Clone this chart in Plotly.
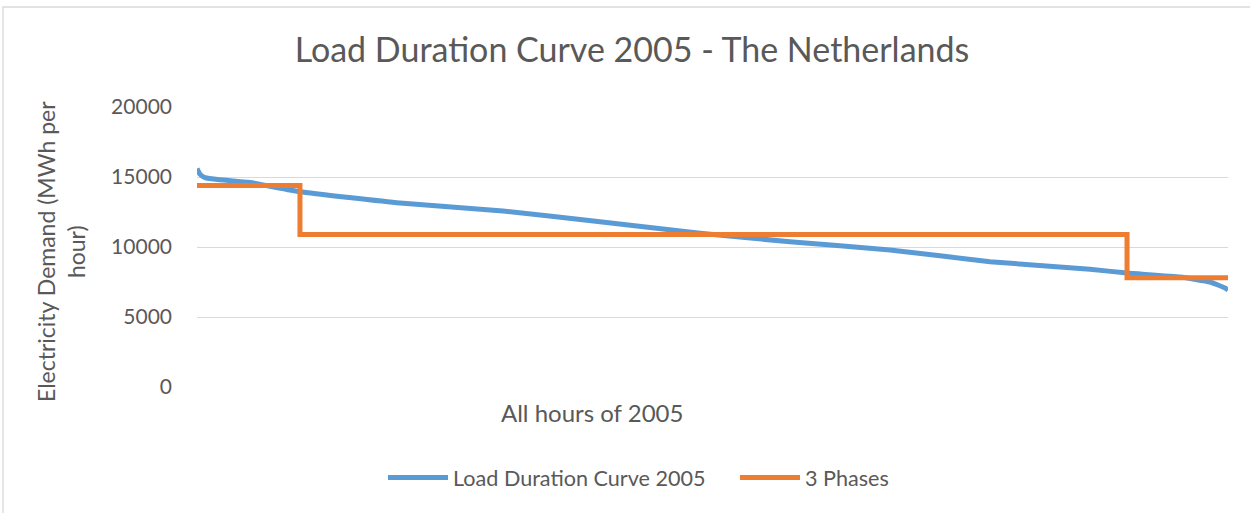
import plotly.graph_objects as go

# Load duration curve (hours sorted by demand), MWh per hour
ldc_hours = [0, 25, 68, 195, 450, 875, 1725, 2600, 3424, 4274, 5038,
             5888, 6738, 7587, 7902, 8352, 8607, 8735, 8760]
ldc_values = [15600, 15200, 14950, 14800, 14600, 13950, 13140, 12570, 11810,
              10980, 10380, 9790, 8950, 8410, 8140, 7850, 7500, 7070, 6930]

# 3-phase step approximation
phase_hours = [0, 875, 7902, 8760]
phase_values = [14400, 10900, 7800, 7800]

y_ticks = [0, 5000, 10000, 15000, 20000]

FONT = "Lato"
GREY = "#595959"

fig = go.Figure()
fig.add_trace(go.Scatter(x=ldc_hours, y=ldc_values, mode="lines",
                         name="Load Duration Curve 2005",
                         line=dict(color="#5b9bd5", width=5, shape="spline", smoothing=0.4)))
fig.add_trace(go.Scatter(x=phase_hours, y=phase_values, mode="lines",
                         name="3 Phases",
                         line=dict(color="#ed7d31", width=5, shape="hv")))

L, R, T, B = 197, 22, 107, 126
W, H = 1250, 513
pw, ph = W - L - R, H - T - B

fig.update_layout(
    width=W, height=H,
    margin=dict(l=L, r=R, t=T, b=B),
    paper_bgcolor="white", plot_bgcolor="white",
    font=dict(family=FONT, color=GREY),
    title=dict(text="Load Duration Curve 2005 - The Netherlands",
               x=632 / W, xanchor="center", y=1 - 50 / H, yanchor="middle",
               font=dict(size=34, color=GREY, family=FONT)),
    xaxis=dict(range=[0, 8760], showticklabels=False, showgrid=False,
               zeroline=False, showline=False, fixedrange=True),
    yaxis=dict(range=[0, 20000], tickvals=y_ticks, ticktext=[str(v) for v in y_ticks],
               showgrid=True, gridcolor="#d9d9d9", gridwidth=1.3, zeroline=False,
               showline=False, ticks="", ticklabelstandoff=24,
               tickfont=dict(size=21, color=GREY, family=FONT)),
    legend=dict(orientation="h", x=(383 - L) / pw, xanchor="left",
                y=(H - B - 478) / ph, yanchor="middle",
                entrywidth=277, entrywidthmode="pixels",
                font=dict(size=21.6, color=GREY, family=FONT), itemwidth=60),
    showlegend=True,
)

fig.add_annotation(text="All hours of 2005", xref="paper", yref="paper",
                   x=(592 - L) / pw, y=(H - B - 412) / ph, xanchor="center", yanchor="middle",
                   showarrow=False, font=dict(size=24, color=GREY, family=FONT))
fig.add_annotation(text="Electricity Demand (MWh per<br>hour)", xref="paper", yref="paper",
                   x=(61 - L) / pw, y=(H - B - 252) / ph, xanchor="center", yanchor="middle",
                   textangle=-90, showarrow=False,
                   font=dict(size=23, color=GREY, family=FONT))

# chart border
fig.add_shape(type="rect", xref="paper", yref="paper",
              x0=(3 - L) / pw, x1=(1260 - L) / pw,
              y0=(H - B - 520) / ph, y1=(H - B - 7) / ph,
              line=dict(color="#d9d9d9", width=1.3), fillcolor="rgba(0,0,0,0)", layer="below")

fig.write_html("out.html", config={"displayModeBar": False},
               post_script="document.body.style.margin='0';")
